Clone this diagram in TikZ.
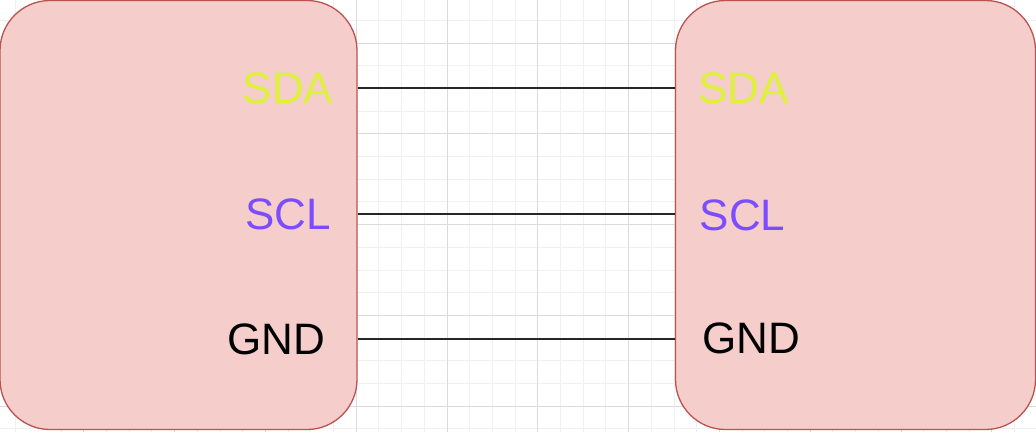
\documentclass[tikz,border=0pt]{standalone}
\usepackage{fontspec}
\setmainfont{Liberation Sans}
\definecolor{boxfill}{HTML}{F5CDCB}
\definecolor{boxline}{HTML}{B85450}
\definecolor{sdacol}{RGB}{222,242,58}
\definecolor{sclcol}{RGB}{124,77,255}
\tikzset{
    device/.style={draw=boxline,fill=boxfill,line width=1.3pt,rounded corners=50pt,
                   inner sep=0pt},
    pin/.style={inner sep=0pt,font=\fontsize{44}{50}\selectfont},
    minorline/.style={draw=black!6,line width=0.9pt},
    majorline/.style={draw=black!14,line width=0.9pt},
    wire/.style={draw=black!85,line width=2pt}
}
\begin{document}
\begin{tikzpicture}[x=1pt,y=-1pt]
                            \useasboundingbox[fill=white] (0,0) rectangle (1036,432);

                            % Grid
                            \foreach \i in {0,...,45}
                                \draw[minorline] ({15.7+22.7*\i},0) -- ++(0,432);
                            \foreach \j in {0,...,18}
                                \draw[minorline] (0,{20.3+22.7*\j}) -- ++(1036,0);
                            \foreach \i in {0,...,11}
                                \draw[majorline] ({-7+90.8*\i},0) -- ++(0,432);
                            \foreach \j in {0,...,4}
                                \draw[majorline] (0,{43+90.8*\j}) -- ++(1036,0);

                            % Devices
                            \node[device,minimum width=357,minimum height=429] (devA) at (178.5,215) {};
                            \node[device,minimum width=360,minimum height=429] (devB) at (855.5,215) {};

                            % Pins
                            \node[pin,sdacol] (sdaA) at (288,88) {SDA};
                            \node[pin,sclcol] (sclA) at (288,214) {SCL};
                            \node[pin,black] (gndA) at (276.5,339) {GND};
                            \node[pin,sdacol] (sdaB) at (743.5,88) {SDA};
                            \node[pin,sclcol] (sclB) at (742.5,215) {SCL};
                            \node[pin,black] (gndB) at (751.5,338) {GND};

                            % Wires
                            \draw[wire] (sdaA -| devA.east) -- (sdaA -| devB.west);
                            \draw[wire] (sclA -| devA.east) -- (sclA -| devB.west);
                            \draw[wire] (gndA -| devA.east) -- (gndA -| devB.west);
\end{tikzpicture}
\end{document}
